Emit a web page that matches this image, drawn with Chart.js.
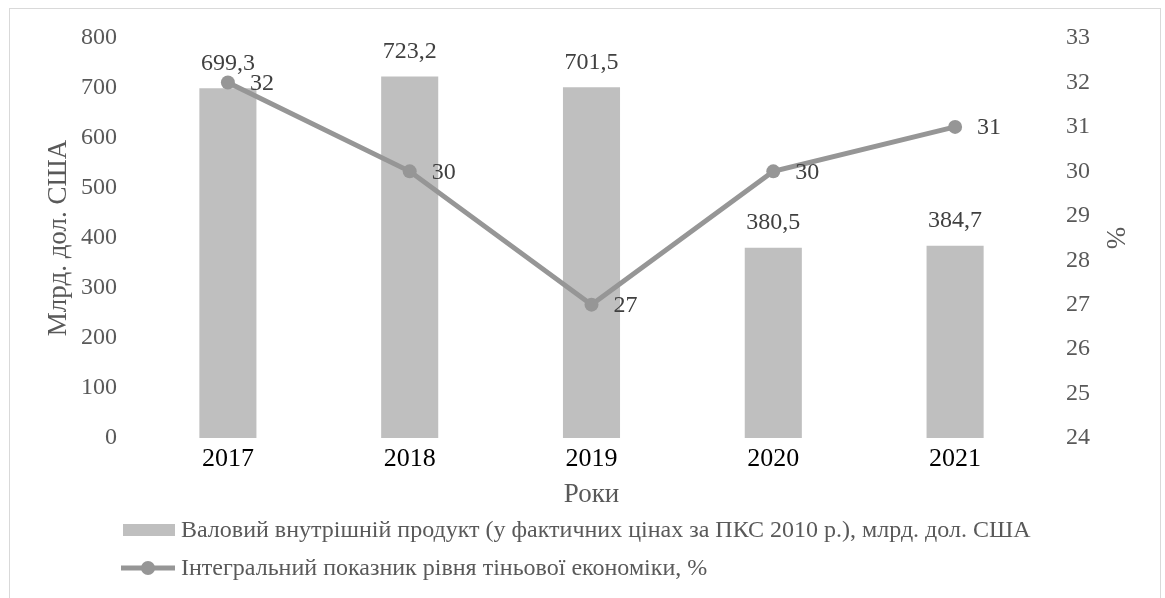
<!DOCTYPE html>
<html>
<head>
<meta charset="utf-8">
<script src="https://cdn.jsdelivr.net/npm/chart.js@4.4.0/dist/chart.umd.min.js"></script>
<style>
  body { margin: 0; background: #fff; }
</style>
</head>
<body>
<canvas id="grafik" width="1165" height="598"></canvas>
<script>
// Дані
const roky = ["2017", "2018", "2019", "2020", "2021"];
const vvp = [699.3, 723.2, 701.5, 380.5, 384.7];
const tinova = [32, 30, 27, 30, 31];

const shryft = "'Liberation Serif', 'Times New Roman', serif";
const sirij = "#595959";

// рамка навколо діаграми
const ramka = {
  id: "ramka",
  beforeDraw(chart) {
    const ctx = chart.ctx;
    ctx.save();
    ctx.fillStyle = "#fff";
    ctx.fillRect(0, 0, chart.width, chart.height);
    ctx.strokeStyle = "#d9d9d9";
    ctx.lineWidth = 1;
    ctx.strokeRect(9.5, 8.5, 1151, 700);
    ctx.restore();
  },
};

// підписи значень
const pidpysy = {
  id: "pidpysy",
  afterDatasetsDraw(chart) {
    const ctx = chart.ctx;
    ctx.save();
    ctx.font = "24px " + shryft;
    ctx.fillStyle = "#404040";
    ctx.textBaseline = "middle";
    chart.getDatasetMeta(1).data.forEach((el, i) => {
      ctx.textAlign = "center";
      ctx.fillText(vvp[i].toFixed(1).replace(".", ","), el.x, el.y - 25);
    });
    chart.getDatasetMeta(0).data.forEach((el, i) => {
      ctx.textAlign = "left";
      ctx.fillText(String(tinova[i]), el.x + 22, el.y + 1);
    });
    ctx.restore();
  },
};

// легенда знизу (два рядки, вирівняні ліворуч)
const legenda = {
  id: "legenda",
  afterDraw(chart) {
    const ctx = chart.ctx;
    const ds = chart.data.datasets;
    ctx.save();
    ctx.font = "24px " + shryft;
    ctx.textBaseline = "middle";
    ctx.textAlign = "left";

    // стовпчики
    ctx.fillStyle = ds[1].backgroundColor;
    ctx.fillRect(123, 524, 52, 12);
    ctx.fillStyle = sirij;
    ctx.fillText(ds[1].label, 181, 531);

    // лінія
    ctx.strokeStyle = ds[0].borderColor;
    ctx.lineWidth = 5;
    ctx.beginPath();
    ctx.moveTo(121, 568);
    ctx.lineTo(175, 568);
    ctx.stroke();
    ctx.fillStyle = ds[0].borderColor;
    ctx.beginPath();
    ctx.arc(148, 568, 7, 0, Math.PI * 2);
    ctx.fill();
    ctx.fillStyle = sirij;
    ctx.fillText(ds[0].label, 181, 569);
    ctx.restore();
  },
};

new Chart(document.getElementById("grafik"), {
  type: "bar",
  data: {
    labels: roky,
    datasets: [
      {
        type: "line",
        label: "Інтегральний показник рівня тіньової економіки, %",
        data: tinova,
        yAxisID: "y1",
        borderColor: "#969696",
        backgroundColor: "#969696",
        borderWidth: 5,
        pointRadius: 7,
        pointBorderWidth: 0,
        pointBackgroundColor: "#969696",
        tension: 0,
        order: 0,
      },
      {
        label: "Валовий внутрішній продукт (у фактичних цінах за ПКС 2010 р.), млрд. дол. США",
        data: vvp,
        yAxisID: "y",
        backgroundColor: "#bfbfbf",
        categoryPercentage: 1,
        barPercentage: 0.314,
        order: 1,
      },
    ],
  },
  options: {
    responsive: false,
    animation: false,
    devicePixelRatio: 1,
    layout: { padding: { top: 38, left: 0, right: 0, bottom: 0 } },
    plugins: {
      legend: { display: false },
      tooltip: { enabled: false },
    },
    scales: {
      x: {
        grid: { display: false },
        border: { display: false },
        ticks: { color: "#000", font: { family: shryft, size: 26 }, padding: -2 },
        title: {
          display: true,
          text: "Роки",
          color: sirij,
          font: { family: shryft, size: 27 },
          padding: { top: 0, bottom: 87 },
        },
        afterFit(s) { s.height = 160; },
      },
      y: {
        position: "left",
        min: 0,
        max: 800,
        grid: { display: false },
        border: { display: false },
        ticks: { stepSize: 100, color: sirij, font: { family: shryft, size: 24 }, padding: 12 },
        title: {
          display: true,
          text: "Млрд. дол. США",
          color: sirij,
          font: { family: shryft, size: 27 },
          padding: { top: 43, bottom: 0 },
        },
        afterFit(s) { s.width = 137; },
      },
      y1: {
        position: "right",
        min: 24,
        max: 33,
        grid: { display: false, drawOnChartArea: false },
        border: { display: false },
        ticks: { stepSize: 1, color: sirij, font: { family: shryft, size: 24 }, padding: 12 },
        title: {
          display: true,
          text: "%",
          color: sirij,
          font: { family: shryft, size: 27 },
          padding: { top: 35, bottom: 0 },
        },
        afterFit(s) { s.width = 119; },
      },
    },
  },
  plugins: [ramka, pidpysy, legenda],
});
</script>
</body>
</html>
